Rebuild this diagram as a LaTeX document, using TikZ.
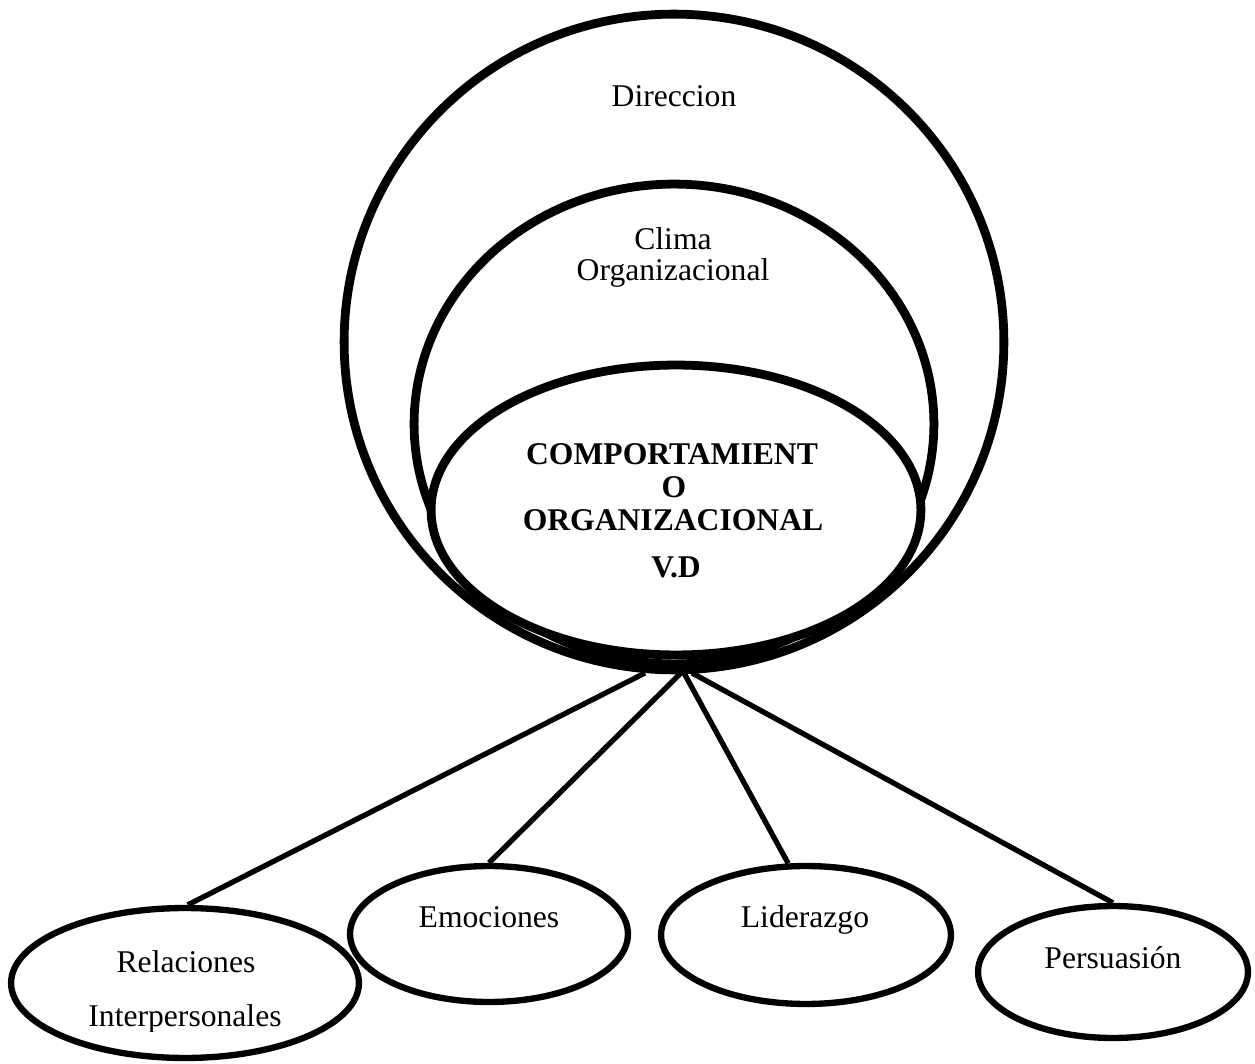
\documentclass[tikz,border=0pt]{standalone}
\usepackage{fontspec}
\setmainfont{Liberation Serif}
\usetikzlibrary{shapes.geometric}

\tikzset{
  % ellipse given by its half axes (in px units)
  ring/.style 2 args={ellipse, draw, fill=white, line width=5pt,
    minimum width=#1*0.04cm, minimum height=#2*0.04cm, inner sep=0pt},
  leaf/.style 2 args={ellipse, draw, fill=white, line width=3.6pt,
    minimum width=#1*0.04cm, minimum height=#2*0.04cm, inner sep=0pt},
  spoke/.style={line width=3pt},
  lbl/.style={anchor=base, inner sep=0pt, font=\fontsize{18}{20}\selectfont},
  blbl/.style={lbl, font=\fontsize{18}{20}\selectfont\bfseries},
}

\begin{document}
\begin{tikzpicture}[x=0.02cm, y=-0.02cm]
\useasboundingbox (0,0) rectangle (1255,1064);

% hub points at the bottom of the nested ellipses
\coordinate (hubA) at (645,673);
\coordinate (hubB) at (681,673);
\coordinate (hubC) at (684,673);
\coordinate (hubD) at (692,673);

% leaf ellipses and their spokes
\node[leaf={174}{75}] (rel) at (185,983) {};
\node[leaf={139}{68}] (emo) at (489,934) {};
\node[leaf={145}{69}] (lid) at (806,935) {};
\node[leaf={135}{66}] (per) at (1113,972) {};

\draw[spoke] (hubA) -- (rel.88);
\draw[spoke] (hubB) -- (emo.north);
\draw[spoke] (hubC) -- (lid.104);
\draw[spoke] (hubD) -- (per.north);

% nested ellipses
\node[ring={330}{328}] (dir) at (674,342) {};
\node[ring={260}{240}] (clima) at (674,424) {};
\node[ring={245}{145}] (comp) at (676,510) {};

% labels
\node[lbl] (tDir) at (674,107) {Direccion};
\node[lbl] (tClimaA) at (673,250) {Clima};
\node[lbl] (tClimaB) at (673,281) {Organizacional};
\node[blbl] (tCompA) at (672,464) {COMPORTAMIENT};
\node[blbl] (tCompB) at (674,497) {O};
\node[blbl] (tCompC) at (673,530) {ORGANIZACIONAL};
\node[blbl] (tCompD) at (676,577) {V.D};

\node[lbl] (tRelA) at (186,972) {Relaciones};
\begin{scope}
  \clip (0,0) rectangle (1255,1031);
  \node[lbl] (tRelB) at (185,1026) {Interpersonales};
\end{scope}
\node[lbl] (tEmo) at (489,927) {Emociones};
\node[lbl] (tLid) at (805,927) {Liderazgo};
\node[lbl] (tPer) at (1113,968) {Persuasión};
\end{tikzpicture}
\end{document}
